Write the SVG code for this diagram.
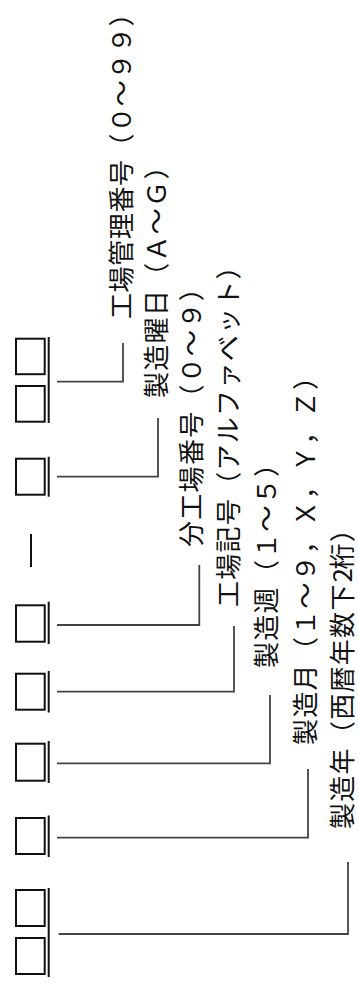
<svg xmlns="http://www.w3.org/2000/svg" width="358" height="986" viewBox="0 0 358 986">
<style>
.box{fill:none;stroke:#111;stroke-width:2}
.bar{stroke:#111;stroke-width:2;fill:none}
.conn{fill:none;stroke:#444;stroke-width:1.8}
.lbl{font-family:"Noto Sans CJK JP","Noto Sans CJK SC",sans-serif;font-size:26px;fill:#111}
</style>
<rect width="358" height="986" fill="#fff"/>
<g id="box-factory-control">
<rect class="box" x="16" y="338.7" width="28.7" height="35.5"/>
<rect class="box" x="16" y="386" width="28.7" height="35.7"/>
<line class="bar" x1="48.7" y1="337" x2="48.7" y2="423"/>
</g>
<g id="box-weekday">
<rect class="box" x="16" y="458.7" width="28.7" height="36"/>
<line class="bar" x1="48.7" y1="456.7" x2="48.7" y2="496.7"/>
</g>
<g id="dash">
<line class="bar" x1="31" y1="534" x2="31" y2="567"/>
</g>
<g id="box-subfactory">
<rect class="box" x="16" y="605.3" width="28.7" height="36.4"/>
<line class="bar" x1="48.7" y1="601.7" x2="48.7" y2="644"/>
</g>
<g id="box-factory-code">
<rect class="box" x="16" y="673.7" width="28.7" height="36"/>
<line class="bar" x1="48.7" y1="671" x2="48.7" y2="712.5"/>
</g>
<g id="box-week">
<rect class="box" x="16" y="743.7" width="28.7" height="37"/>
<line class="bar" x1="48.7" y1="741" x2="48.7" y2="783"/>
</g>
<g id="box-month">
<rect class="box" x="16" y="818" width="28.7" height="36"/>
<line class="bar" x1="48.7" y1="815.5" x2="48.7" y2="857"/>
</g>
<g id="box-year">
<rect class="box" x="16" y="890" width="28.7" height="36"/>
<rect class="box" x="16" y="938" width="28.7" height="36"/>
<line class="bar" x1="48.7" y1="888" x2="48.7" y2="977"/>
</g>
<g id="connectors">
<polyline class="conn" points="57,381.7 123,381.7 123,343"/>
<polyline class="conn" points="57,476.7 158,476.7 158,418"/>
<polyline class="conn" points="57,625 199.3,625 199.3,565"/>
<polyline class="conn" points="57,691.7 234,691.7 234,626"/>
<polyline class="conn" points="57,763.3 270,763.3 270,695"/>
<polyline class="conn" points="57,837.7 308,837.7 308,769"/>
<polyline class="conn" points="58.7,934 348,934 348,862"/>
</g>
<g id="label-factory-control">
<text class="lbl" transform="translate(131,319) rotate(-90)" x="0 26.6 53.2 79.8 106.4 133 159.6 186.2 212.8 239.4 266 292.6">工場管理番号（０～９９）</text>
</g>
<g id="label-weekday">
<text class="lbl" transform="translate(166,398) rotate(-90)" x="0 27.3 54.6 81.9 109.2 136.5 163.8 191.1 218.4">製造曜日（Ａ～Ｇ）</text>
</g>
<g id="label-subfactory">
<text class="lbl" transform="translate(201,547) rotate(-90)" x="0 27.3 54.6 81.9 109.2 136.5 163.8 191.1 218.4 245.7">分工場番号（０～９）</text>
</g>
<g id="label-factory-code">
<text class="lbl" transform="translate(238,607) rotate(-90)" x="0 27.3 54.6 81.9 109.2 136.5 163.8 191.1 218.4 245.7 273 300.3 327.6">工場記号（アルファベット）</text>
</g>
<g id="label-week">
<text class="lbl" transform="translate(276,668) rotate(-90)" x="0 27.3 54.6 81.9 109.2 136.5 163.8 191.1">製造週（１～５）</text>
</g>
<g id="label-month">
<text class="lbl" transform="translate(315,745) rotate(-90)" x="0 27.3 54.6 81.9 109.2 136.5 163.8 191.1 218.4 245.7 273 300.3 327.6 354.9">製造月（１～９，Ｘ，Ｙ，Ｚ）</text>
</g>
<g id="label-year">
<text class="lbl" transform="translate(352,829) rotate(-90)" x="0 27.3 54.6 81.9 109.2 136.5 163.8 191.1 218.4 246.5 259.4 286.7">製造年（西暦年数下2桁）</text>
</g>
</svg>
